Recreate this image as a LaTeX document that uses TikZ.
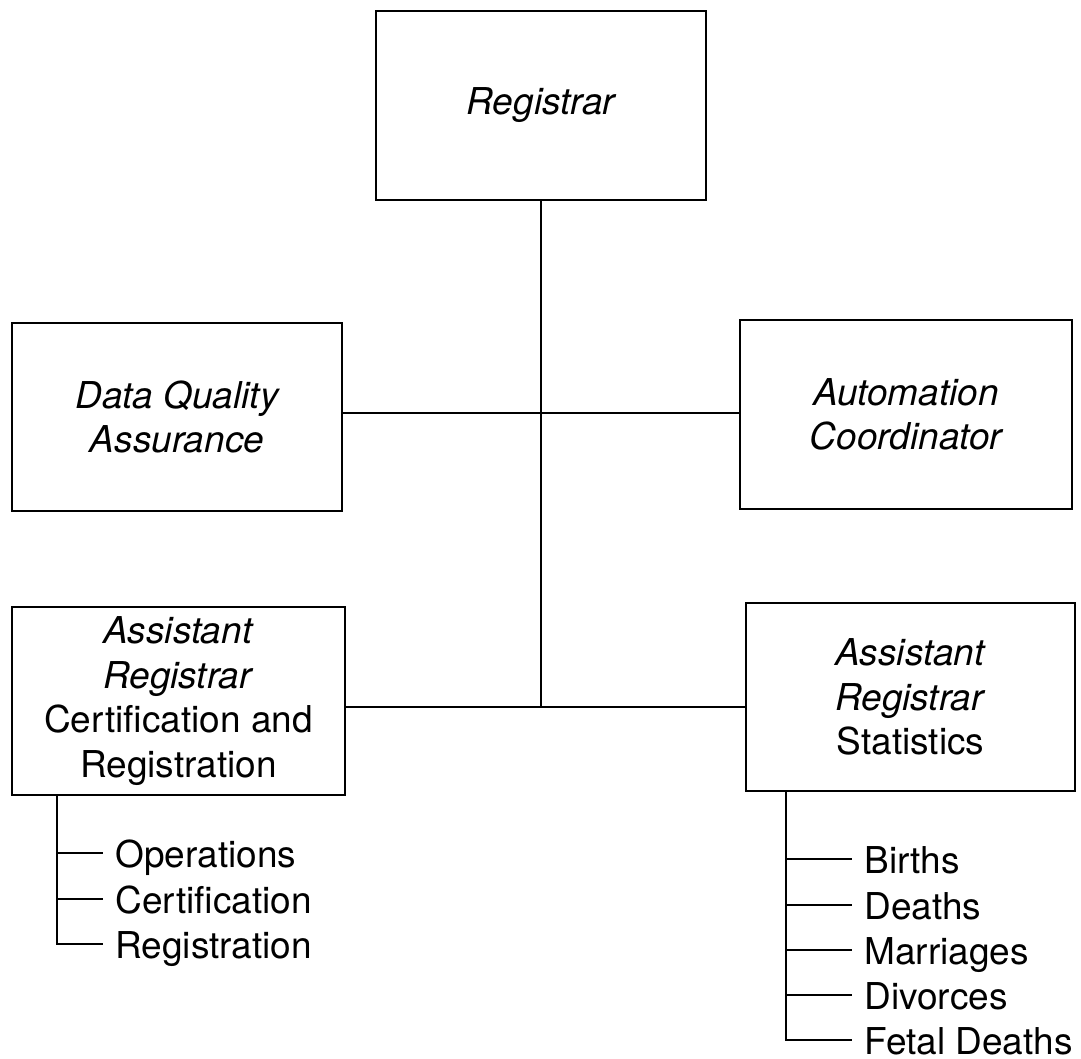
\documentclass[tikz,border=0pt]{standalone}
\usepackage{fontspec}
\setmainfont{TeX Gyre Heros}
\begin{document}
\begin{tikzpicture}[x=0.5pt,y=-0.5pt,
  unit/.style={draw, line width=1.2pt, align=center, inner sep=0pt,
    font=\fontsize{18.5}{22.3}\selectfont},
  titled/.style={unit, font=\fontsize{18.5}{22.3}\selectfont\itshape},
  link/.style={line width=0.9pt},
  item/.style={anchor=west, inner ysep=0pt, inner xsep=6pt,
    text height=14pt, text depth=0pt, font=\fontsize{18.5}{22.3}\selectfont}]
\useasboundingbox (0,0) rectangle (1081,1059);

% offices
\node[titled, minimum width=165pt, minimum height=94.5pt] (reg) at (541,105.5) {Registrar};
\node[titled, minimum width=165pt, minimum height=94pt] (dqa) at (177,417) {Data Quality\\Assurance};
\node[titled, minimum width=166pt, minimum height=94.5pt] (auto) at (906,414.5) {Automation\\Coordinator};
\node[unit, minimum width=166.5pt, minimum height=94pt] (arcr) at (178.5,701)
  {\textit{Assistant}\\\textit{Registrar}\\Certification and\\Registration};
\node[unit, minimum width=164.5pt, minimum height=94pt] (arst) at (910.5,697)
  {\textit{Assistant}\\\textit{Registrar}\\Statistics};

% reporting lines
\coordinate (j1) at (541,413);
\coordinate (j2) at (541,707);
\draw[link] (reg.south) -- (j2);
\draw[link] (dqa.east |- j1) -- (auto.west |- j1);
\draw[link] (arcr.east |- j2) -- (arst.west |- j2);

% certification and registration sections
\coordinate (ls) at (57,795);
\node[item] (ops) at (103,853) {Operations};
\node[item] (cer) at (103,899) {Certification};
\node[item] (rgn) at (103,944) {Registration};
\draw[link] (ls) |- (rgn.west);
\draw[link] (ls |- ops.west) -- (ops.west);
\draw[link] (ls |- cer.west) -- (cer.west);

% statistics sections
\coordinate (rs) at (786,791);
\node[item] (bir) at (852,859) {Births};
\node[item] (dea) at (852,905) {Deaths};
\node[item] (mar) at (852,950) {Marriages};
\node[item] (div) at (852,995) {Divorces};
\node[item] (fet) at (852,1040) {Fetal Deaths};
\draw[link] (rs) |- (fet.west);
\draw[link] (rs |- bir.west) -- (bir.west);
\draw[link] (rs |- dea.west) -- (dea.west);
\draw[link] (rs |- mar.west) -- (mar.west);
\draw[link] (rs |- div.west) -- (div.west);
\end{tikzpicture}
\end{document}
